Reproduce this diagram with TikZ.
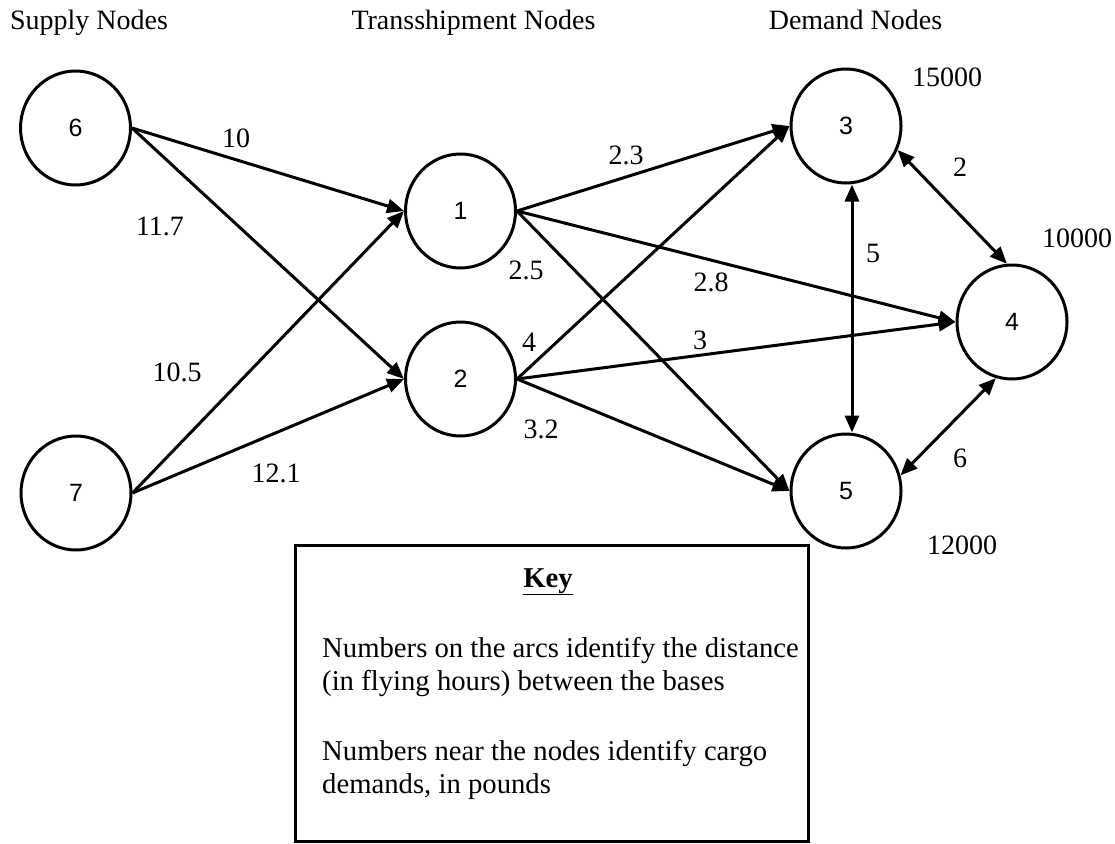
\documentclass[tikz,border=0pt]{standalone}
\usepackage{fontspec}
\setmainfont{Liberation Serif}
\newfontfamily\nodefont{Liberation Sans}
\usetikzlibrary{arrows.meta,shapes.geometric}

\begin{document}
\begin{tikzpicture}[x=1pt,y=-1pt,
  base/.style={ellipse,draw,line width=3pt,minimum width=110pt,minimum height=114pt,
               inner sep=0pt,font=\nodefont\fontsize{25}{28}\selectfont},
  lbl/.style={font=\fontsize{28}{32}\selectfont,inner sep=0pt},
  keytxt/.style={font=\fontsize{28.7}{33}\selectfont,inner sep=0pt,anchor=base west},
  arc/.style={line width=3pt,-{Triangle[length=17pt,width=14pt]}},
  both/.style={line width=3pt,{Triangle[length=17pt,width=14pt]}-{Triangle[length=17pt,width=14pt]}},
]
\useasboundingbox (0,0) rectangle (1115,843);

% column headings
\node[lbl,anchor=base] (hs) at (89,30) {Supply Nodes};
\node[lbl,anchor=base] (ht) at (473.5,30) {Transshipment Nodes};
\node[lbl,anchor=base] (hd) at (855.5,30) {Demand Nodes};

% bases
\node[base] (n6) at (75.5,128) {6};
\node[base] (n7) at (76,493) {7};
\node[base] (n1) at (460.5,211) {1};
\node[base] (n2) at (460.5,379) {2};
\node[base] (n3) at (846,126) {3};
\node[base] (n4) at (1012,322) {4};
\node[base] (n5) at (846,491) {5};

% supply to transshipment
\draw[arc] (n6.east) -- (n1.west);
\draw[arc] (n6.east) -- (n2.west);
\draw[arc] (n7.east) -- (n1.west);
\draw[arc] (n7.east) -- (n2.west);

% transshipment to demand
\draw[arc] (n1.east) -- (n3.west);
\draw[arc] (n1.east) -- (n4.west);
\draw[arc] (n1.east) -- (n5.west);
\draw[arc] (n2.east) -- (n3.west);
\draw[arc] (n2.east) -- (n4.west);
\draw[arc] (n2.east) -- (n5.west);

% links among demand bases
\draw[both] ([xshift=6pt]n3.south) -- ([xshift=6pt]n5.north);
\draw[both] (n3.-25) -- (n4.95);
\draw[both] (n5.16) -- (n4.-106);

% arc distances
\node[lbl] (d61) at (236,138) {10};
\node[lbl] (d62) at (160,226) {11.7};
\node[lbl] (d71) at (177,372) {10.5};
\node[lbl] (d72) at (276,473) {12.1};
\node[lbl] (d13) at (626,155) {2.3};
\node[lbl] (d15) at (526,270) {2.5};
\node[lbl] (d14) at (711,282) {2.8};
\node[lbl] (d23) at (529,342) {4};
\node[lbl] (d24) at (700,340) {3};
\node[lbl] (d25) at (541,429) {3.2};
\node[lbl] (d34) at (960,167) {2};
\node[lbl] (d35) at (873,253) {5};
\node[lbl] (d45) at (960,458) {6};

% cargo demands
\node[lbl] (c3) at (947,77) {15000};
\node[lbl] (c4) at (1077,238) {10000};
\node[lbl] (c5) at (962,545) {12000};

% key
\node[draw,line width=3pt,anchor=north west,minimum width=513pt,minimum height=296pt,inner sep=0pt] (key) at (293.5,543.5) {};
\node[inner sep=0pt,font=\fontsize{28.7}{33}\selectfont\bfseries,anchor=base] (keyt) at (548,587) {\underline{Key}};
\node[keytxt] (k1) at (322,657) {Numbers on the arcs identify the distance};
\node[keytxt] (k2) at (322,690) {(in flying hours) between the bases};
\node[keytxt] (k3) at (322,760) {Numbers near the nodes identify cargo};
\node[keytxt] (k4) at (322,793) {demands, in pounds};
\end{tikzpicture}
\end{document}
